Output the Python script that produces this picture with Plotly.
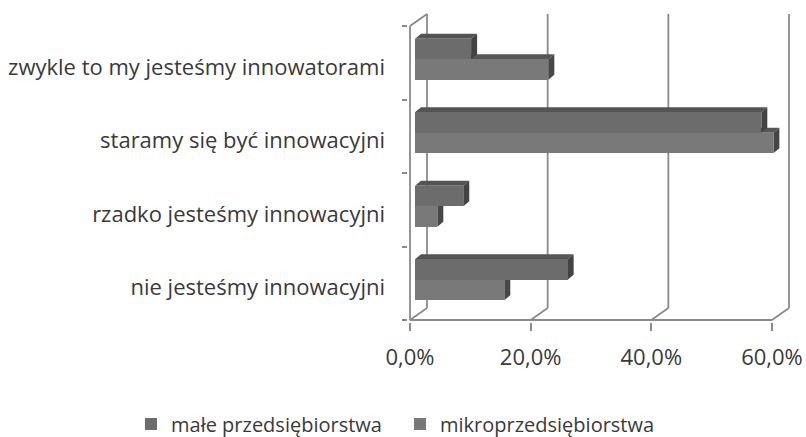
import plotly.graph_objects as go

# ---- data ----
categories = ["nie jesteśmy innowacyjni", "rzadko jesteśmy innowacyjni",
              "staramy się być innowacyjni", "zwykle to my jesteśmy innowatorami"]
male = [25.3, 8.0, 57.4, 9.3]      # małe przedsiębiorstwa (%)
mikro = [14.8, 3.7, 59.4, 22.1]    # mikroprzedsiębiorstwa (%)
series_names = ["małe przedsiębiorstwa", "mikroprzedsiębiorstwa"]
xtick_vals = [0, 20, 40, 60]
xtick_text = ["0,0%", "20,0%", "40,0%", "60,0%"]

# ---- geometry (pixels -> axis units) ----
W, H = 806, 437
SX = 362 / 60.0          # px per percent
SY = 73.5                # px per category
L_PX, R_PX = 408, 793
T_PX, B_PX = 11, 322
X0_PX, Y0_PX = 410, 320  # front origin

xmin = (L_PX - X0_PX) / SX
xmax = (R_PX - X0_PX) / SX
ymin = -0.5 - (B_PX - Y0_PX) / SY
ymax = -0.5 + (Y0_PX - T_PX) / SY

DX, DY = 17 / SX, 12 / SY          # wall depth
FX, FY = 5 / SX, 3.6 / SY          # bar front plane offset
BX, BY = 6 / SX, 5 / SY            # bar depth
BH = 20.5 / SY                     # bar thickness

GRID = "#8a8a8a"
col_front = ["#6c6c6c", "#797979"]
col_top = ["#545454", "#565656"]
col_side = ["#434343", "#474747"]

idx = list(range(len(categories)))
series = [male, mikro]
centers = [[i + FY + BH / 2 for i in idx], [i + FY - BH / 2 for i in idx]]

fig = go.Figure()
for s, vals in enumerate(series):
    fig.add_trace(go.Bar(
        y=centers[s], x=vals, base=[FX] * len(vals), orientation="h",
        width=BH, name=series_names[s],
        marker=dict(color=col_front[s], line=dict(width=0)),
    ))

shapes = []
line = dict(color=GRID, width=1.8)
for g in xtick_vals:
    shapes.append(dict(type="line", xref="x", yref="y", x0=g + DX, x1=g + DX,
                       y0=-0.5 + DY, y1=len(categories) - 0.5 + DY, line=line, layer="below"))
    shapes.append(dict(type="line", xref="x", yref="y", x0=g, x1=g + DX,
                       y0=-0.5, y1=-0.5 + DY, line=line, layer="below"))
shapes.append(dict(type="line", xref="x", yref="y", x0=0, x1=xtick_vals[-1],
                   y0=-0.5, y1=-0.5, line=line, layer="below"))
shapes.append(dict(type="line", xref="x", yref="y", x0=0, x1=0,
                   y0=-0.5, y1=len(categories) - 0.5, line=line, layer="below"))
shapes.append(dict(type="line", xref="x", yref="y", x0=0, x1=DX,
                   y0=len(categories) - 0.5, y1=len(categories) - 0.5 + DY, line=line, layer="below"))

for s in [1, 0]:
    for i, v in zip(idx, series[s]):
        yb = centers[s][i] - BH / 2
        yt = centers[s][i] + BH / 2
        x1 = FX + v
        top = f"M {FX},{yt} L {x1},{yt} L {x1 + BX},{yt + BY} L {FX + BX},{yt + BY} Z"
        side = f"M {x1},{yb} L {x1},{yt} L {x1 + BX},{yt + BY} L {x1 + BX},{yb + BY} Z"
        shapes.append(dict(type="path", xref="x", yref="y", path=top,
                           fillcolor=col_top[s], line=dict(width=0), layer="below"))
        shapes.append(dict(type="path", xref="x", yref="y", path=side,
                           fillcolor=col_side[s], line=dict(width=0), layer="below"))

FONT = "Open Sans"
TXT = "#3a3a3a"
PW, PH = R_PX - L_PX, B_PX - T_PX
fig.update_layout(
    width=W, height=H,
    margin=dict(l=L_PX, r=W - R_PX, t=T_PX, b=H - B_PX, pad=0, autoexpand=False),
    paper_bgcolor="white", plot_bgcolor="rgba(0,0,0,0)",
    barmode="overlay",
    font=dict(family=FONT, size=22, color=TXT),
    shapes=shapes,
    showlegend=True,
    legend=dict(orientation="h", x=(131 - L_PX) / PW, xref="paper", xanchor="left",
                y=(B_PX - 424) / PH, yref="paper", yanchor="middle",
                entrywidth=224, entrywidthmode="pixels",
                font=dict(size=20, color=TXT), traceorder="normal"),
    xaxis=dict(range=[xmin, xmax], showgrid=False, zeroline=False, showline=False,
               automargin=False,
               tickvals=xtick_vals, ticktext=xtick_text, ticks="outside",
               ticklen=8, tickwidth=1.8, tickcolor=GRID, ticklabelstandoff=8),
    yaxis=dict(range=[ymin, ymax], showgrid=False, zeroline=False, showline=False,
               automargin=False,
               tickvals=[i - 0.06 for i in idx], ticktext=categories, ticks="",
               ticklabelstandoff=22,
               minor=dict(tickvals=[i - 0.5 for i in range(len(categories) + 1)],
                          ticks="outside", ticklen=5, tickwidth=1.8, tickcolor=GRID)),
    bargap=0,
)

fig.write_html("out.html", config={"displayModeBar": False},
               post_script="document.body.style.margin='0';document.body.style.overflow='hidden';")
